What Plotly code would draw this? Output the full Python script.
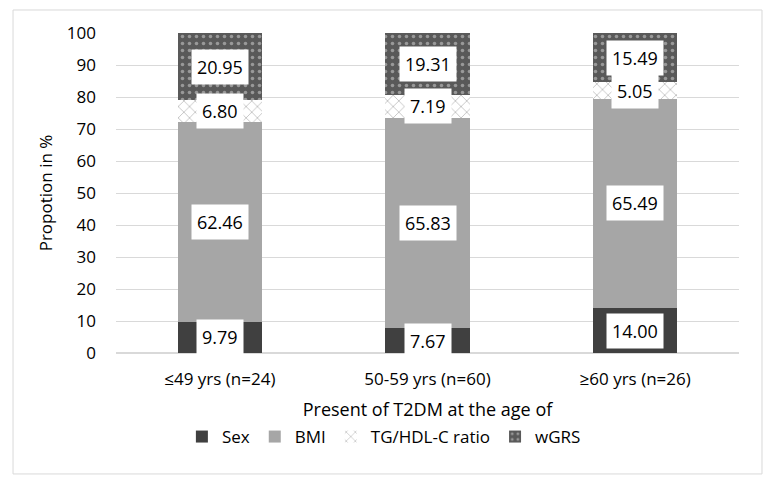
import plotly.graph_objects as go

categories = ["≤49 yrs (n=24)", "50-59 yrs (n=60)", "≥60 yrs (n=26)"]
sex = [9.79, 7.67, 14.00]
bmi = [62.46, 65.83, 65.49]
tg_hdl = [6.80, 7.19, 5.05]
wgrs = [20.95, 19.31, 15.49]
series_names = ["Sex", "BMI", "TG/HDL-C ratio", "wGRS"]
y_ticks = list(range(0, 101, 10))

FONT = "Open Sans, Liberation Sans, sans-serif"
series = [sex, bmi, tg_hdl, wgrs]

fig = go.Figure()
fig.add_trace(go.Bar(x=categories, y=sex, name=series_names[0], marker=dict(color="#404040", line=dict(width=0))))
fig.add_trace(go.Bar(x=categories, y=bmi, name=series_names[1], marker=dict(color="#a6a6a6", line=dict(width=0))))
fig.add_trace(go.Bar(x=categories, y=tg_hdl, name=series_names[2],
                     marker=dict(color="white", line=dict(width=0),
                                 pattern=dict(shape="x", fgcolor="#7f7f7f", bgcolor="white", size=8, solidity=0.2))))
fig.add_trace(go.Bar(x=categories, y=wgrs, name=series_names[3],
                     marker=dict(color="#595959", line=dict(width=0),
                                 pattern=dict(shape=".", fgcolor="#d9d9d9", bgcolor="#595959", size=7, solidity=0.2))))

annotations = []
for i, cat in enumerate(categories):
    base = 0
    for s in series:
        v = s[i]
        annotations.append(dict(x=cat, y=base + v / 2, xref="x", yref="y", text=f"{v:.2f}",
                                showarrow=False, bgcolor="white", borderpad=5,
                                font=dict(family=FONT, size=18, color="#000000")))
        base += v

fig.update_layout(
    barmode="stack",
    bargap=0.595,
    width=770, height=482,
    margin=dict(l=116, r=31, t=33, b=129, autoexpand=False),
    paper_bgcolor="white", plot_bgcolor="white",
    font=dict(family=FONT, size=17, color="#000000"),
    annotations=annotations,
    legend=dict(orientation="h", x=0.43, xanchor="center", y=-0.2625, yanchor="middle",
                font=dict(family=FONT, size=17, color="#000000"), traceorder="normal",
                itemwidth=30),
    shapes=[dict(type="rect", xref="paper", yref="paper", x0=-0.1653, x1=1.0369, y0=-0.378, y1=1.0719,
                 line=dict(color="#d9d9d9", width=1), layer="below")],
)
fig.update_xaxes(showline=False, ticks="", tickfont=dict(size=17), automargin=False,
                 ticklabelstandoff=14,
                 title=dict(text="Present of T2DM at the age of", font=dict(size=18), standoff=14))
fig.update_yaxes(range=[0, 100], tickvals=y_ticks, showgrid=True, gridcolor="#d9d9d9", gridwidth=1,
                 zeroline=True, zerolinecolor="#d9d9d9", tickfont=dict(size=17), ticklen=0,
                 ticklabelstandoff=19, automargin=False,
                 title=dict(text="Propotion in %", font=dict(size=17), standoff=9))

fig.write_html("out.html", config={"displayModeBar": False},
               post_script="document.body.style.margin='0';document.body.style.overflow='hidden';")
